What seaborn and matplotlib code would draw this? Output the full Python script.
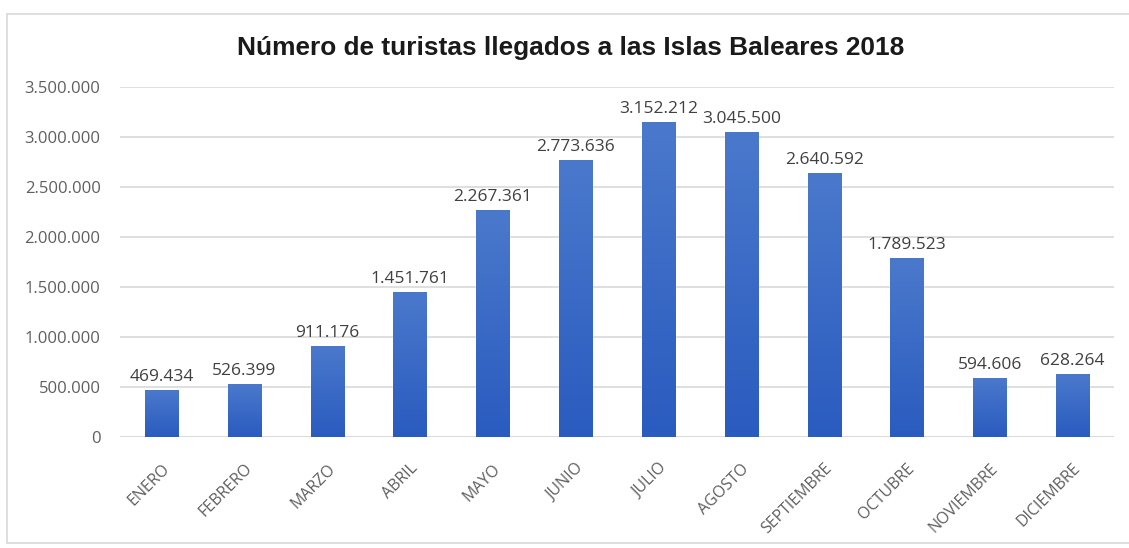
import matplotlib
matplotlib.use("Agg")
import matplotlib.pyplot as plt
import matplotlib.lines as mlines
import numpy as np
import pandas as pd
import seaborn as sns

meses = ["ENERO", "FEBRERO", "MARZO", "ABRIL", "MAYO", "JUNIO", "JULIO",
         "AGOSTO", "SEPTIEMBRE", "OCTUBRE", "NOVIEMBRE", "DICIEMBRE"]
turistas = [469434, 526399, 911176, 1451761, 2267361, 2773636, 3152212,
            3045500, 2640592, 1789523, 594606, 628264]
y_ticks = [0, 500000, 1000000, 1500000, 2000000, 2500000, 3000000, 3500000]

titulo = "Número de turistas llegados a las Islas Baleares 2018"


def miles(v):
    return f"{int(v):,}".replace(",", ".")


sns.set_theme(style="white")
plt.rcParams["font.family"] = ["Open Sans", "DejaVu Sans"]

df = pd.DataFrame({"mes": meses, "turistas": turistas})

W, H = 1129, 548
fig = plt.figure(figsize=(W / 100, H / 100), dpi=100)
ax = fig.add_axes([120 / W, 1 - 437 / H, 994 / W, 350 / H])

sns.barplot(data=df, x="mes", y="turistas", color="#3a68c4", width=0.4,
            saturation=1, ax=ax, zorder=3)

# vertical blue gradient inside every bar
grad = np.linspace(0, 1, 256).reshape(-1, 1)
cmap = matplotlib.colors.LinearSegmentedColormap.from_list(
    "azul", ["#2a5bbf", "#4a79cc"])
for p in ax.patches:
    x0, y0 = p.get_x(), p.get_y()
    w, h = p.get_width(), p.get_height()
    im = ax.imshow(grad, extent=[x0, x0 + w, y0, y0 + h], origin="lower",
                   cmap=cmap, aspect="auto", zorder=4)
    im.set_clip_path(p)

for i, v in enumerate(turistas):
    ax.annotate(miles(v), (i, v), xytext=(0, 6.5), textcoords="offset points",
                ha="center", va="baseline", fontsize=12.5, color="#404040",
                zorder=5)

ax.set_xlim(-0.5, len(meses) - 0.5)
ax.set_ylim(0, 3500000)
ax.set_yticks(y_ticks)
ax.set_yticklabels([miles(t) for t in y_ticks], fontsize=12, color="#5f5f5f")
ax.set_xticks(range(len(meses)))
ax.set_xticklabels(meses, rotation=45, ha="right", va="top",
                   rotation_mode="anchor", fontsize=11.5, color="#5f5f5f")
ax.tick_params(axis="x", length=0, pad=17)
ax.tick_params(axis="y", length=0, pad=14)
ax.yaxis.grid(True, color="#d9d9d9", linewidth=1.2, zorder=0)
ax.set_axisbelow(True)
for s in ax.spines.values():
    s.set_visible(False)
ax.axhline(0, color="#d9d9d9", linewidth=1.2, zorder=2)
ax.set_xlabel("")
ax.set_ylabel("")

fig.text(571 / W, 1 - 48 / H, titulo, ha="center", va="center",
         fontsize=18.9, fontweight="bold", color="#1a1a1a",
         family=["Liberation Sans", "DejaVu Sans"])

# light frame on the left, top and bottom of the chart area
fx0, fy_top, fy_bot = 7 / W, 1 - 14 / H, 1 - 543 / H
for xs, ys in [([fx0, 1], [fy_top, fy_top]),
               ([fx0, 1], [fy_bot, fy_bot]),
               ([fx0, fx0], [fy_bot, fy_top])]:
    fig.add_artist(mlines.Line2D(xs, ys, transform=fig.transFigure,
                                 color="#d9d9d9", linewidth=1.2))

fig.savefig("out.png", dpi=100)
